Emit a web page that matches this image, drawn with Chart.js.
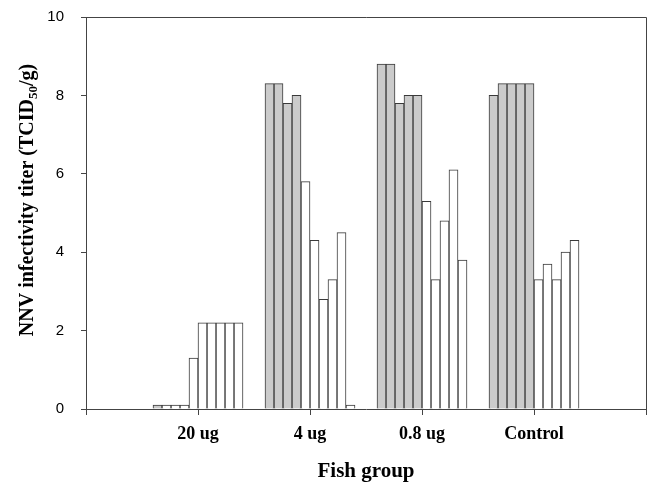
<!DOCTYPE html>
<html>
<head>
<meta charset="utf-8">
<script src="https://cdn.jsdelivr.net/npm/chart.js@4"></script>
<style>
  body { margin: 0; background: #fff; }
  #wrap { width: 651px; height: 484px; }
</style>
</head>
<body>
<div id="wrap"><canvas id="titer-chart" width="651" height="484"></canvas></div>
<script>
// x positions: empty slot at both ends, groups in between
const groups = ['', '20 ug', '4 ug', '0.8 ug', 'Control', ''];

// ten bars per group, read from left to right
const titer20ug = [0.1, 0.1, 0.1, 0.1, 1.3, 2.2, 2.2, 2.2, 2.2, 2.2];
const titer4ug = [8.3, 8.3, 7.8, 8.0, 5.8, 4.3, 2.8, 3.3, 4.5, 0.1];
const titer08ug = [8.8, 8.8, 7.8, 8.0, 8.0, 5.3, 3.3, 4.8, 6.1, 3.8];
const titerControl = [8.0, 8.3, 8.3, 8.3, 8.3, 3.3, 3.7, 3.3, 4.0, 4.3];
// how many of the bars in each group are filled grey
const grayCount = [1, 4, 5, 5];

const yTicks = [0, 2, 4, 6, 8, 10];

const groupValues = [titer20ug, titer4ug, titer08ug, titerControl];

const datasets = [];
for (let i = 0; i < 10; i++) {
    const data = [null];
    const colors = ['#fff'];
    groupValues.forEach((vals, g) => {
        data.push(vals[i]);
        colors.push(i < grayCount[g] ? '#cbcbcb' : '#ffffff');
    });
    data.push(null);
    colors.push('#fff');
    datasets.push({
        label: 'bar ' + (i + 1),
        data: data,
        backgroundColor: colors,
        borderColor: '#3a3a3a',
        borderWidth: 1,
        borderSkipped: 'start',
        barThickness: 9
    });
}

// frame on top/right and y title with a real subscript
const framePlugin = {
    id: 'frame',
    afterDraw(chart) {
        const ctx = chart.ctx;
        const a = chart.chartArea;
        ctx.save();
        ctx.strokeStyle = '#444';
        ctx.lineWidth = 1;
        ctx.beginPath();
        ctx.moveTo(a.left, a.top + 0.5);
        ctx.lineTo(a.right + 0.5, a.top + 0.5);
        ctx.lineTo(a.right + 0.5, a.bottom);
        ctx.stroke();

        // y axis title
        const big = 'bold 20px "Liberation Serif", "Times New Roman", serif';
        const small = 'bold 13px "Liberation Serif", "Times New Roman", serif';
        const p1 = 'NNV infectivity titer (TCID';
        const p2 = '50';
        const p3 = '/g)';
        ctx.font = big;
        const w1 = ctx.measureText(p1).width;
        const w3 = ctx.measureText(p3).width;
        ctx.font = small;
        const w2 = ctx.measureText(p2).width;
        const total = w1 + w2 + w3;
        ctx.translate(33, 200);
        ctx.rotate(-Math.PI / 2);
        ctx.fillStyle = '#000';
        ctx.textBaseline = 'alphabetic';
        ctx.textAlign = 'left';
        let x = -total / 2;
        ctx.font = big;
        ctx.fillText(p1, x, 0);
        x += w1;
        ctx.font = small;
        ctx.fillText(p2, x, 4);
        x += w2;
        ctx.font = big;
        ctx.fillText(p3, x, 0);
        ctx.restore();
    }
};

const ctx = document.getElementById('titer-chart').getContext('2d');
new Chart(ctx, {
    type: 'bar',
    data: { labels: groups, datasets: datasets },
    plugins: [framePlugin],
    options: {
        responsive: false,
        animation: false,
        layout: { padding: { top: 17, right: 5, left: 0, bottom: 0 } },
        plugins: { legend: { display: false }, tooltip: { enabled: false } },
        scales: {
            x: {
                offset: false,
                grid: { display: true, offset: false, drawOnChartArea: false, drawTicks: true, tickLength: 6, color: '#444' },
                border: { color: '#444' },
                ticks: {
                    autoSkip: false,
                    maxRotation: 0,
                    color: '#000',
                    padding: 9,
                    font: { family: '"Liberation Serif", "Times New Roman", serif', size: 18, weight: 'bold' }
                },
                title: {
                    display: true,
                    text: 'Fish group',
                    color: '#000',
                    padding: { top: 13, bottom: 0 },
                    font: { family: '"Liberation Serif", "Times New Roman", serif', size: 21, weight: 'bold' }
                },
                afterFit(scale) {
                    scale.height = 75;
                    scale.paddingLeft = 0;
                    scale.paddingRight = 0;
                }
            },
            y: {
                min: 0,
                max: 10,
                afterBuildTicks(scale) { scale.ticks = yTicks.map(v => ({ value: v })); },
                grid: { display: true, drawOnChartArea: false, drawTicks: true, tickLength: 5, color: '#444' },
                border: { color: '#444' },
                ticks: {
                    color: '#000',
                    padding: 17,
                    font: { family: '"Liberation Sans", Arial, sans-serif', size: 15 }
                },
                afterFit(scale) {
                    scale.width = 86;
                    scale.paddingTop = 0;
                    scale.paddingBottom = 0;
                }
            }
        }
    }
});
</script>
</body>
</html>
